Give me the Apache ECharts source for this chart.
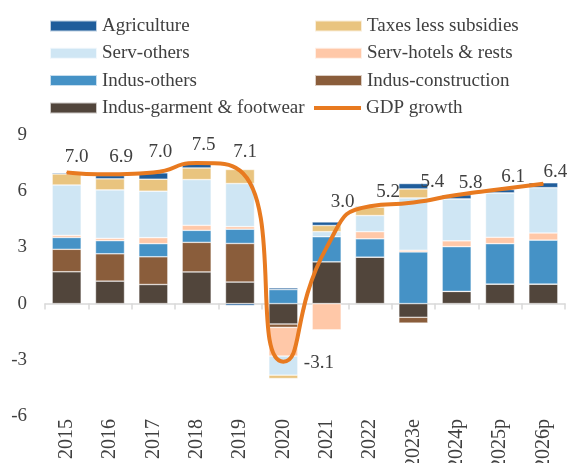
<!DOCTYPE html>
<html>
<head>
<meta charset="utf-8">
<script src="https://cdn.jsdelivr.net/npm/echarts@6/dist/echarts.min.js"></script>
<style>
html,body{margin:0;padding:0;background:#fff;}
#chart{width:571px;height:463px;}
</style>
</head>
<body>
<div id="chart"></div>
<script>
// ---- data ----
const categories = ['2015','2016','2017','2018','2019','2020','2021','2022','2023e','2024p','2025p','2026p'];
const indusGarment      = [1.70, 1.20, 1.02, 1.69, 1.15, -1.09, 2.23, 2.48, -0.73, 0.65, 1.04, 1.04];
const indusConstruction = [1.20, 1.46, 1.48, 1.58, 2.06, -0.18, 0, 0, -0.31, 0, 0, 0];
const indusOthers       = [0.63, 0.70, 0.70, 0.64, 0.76, 0.75, 1.34, 0.98, 2.76, 2.39, 2.16, 2.35];
const servHotels        = [0.11, 0.12, 0.32, 0.27, 0.14, -1.53, -1.40, 0.38, 0.09, 0.31, 0.34, 0.38];
const servOthers        = [2.69, 2.59, 2.48, 2.44, 2.30, -1.02, 0.27, 0.86, 2.79, 2.24, 2.37, 2.42];
const taxes             = [0.59, 0.59, 0.64, 0.62, 0.75, -0.18, 0.33, 0.45, 0.48, 0, 0, 0];
const agriculture       = [0.06, 0.18, 0.34, 0.28, -0.10, 0.09, 0.19, 0.05, 0.29, 0.22, 0.18, 0.26];
const gdpGrowth         = [7.0, 6.9, 7.0, 7.5, 7.1, -3.1, 3.0, 5.2, 5.4, 5.8, 6.1, 6.4];
const yTicks = {min: -6, max: 9, step: 3};

// ---- styling ----
const FONT = 'Liberation Serif';
const TXT = '#404040';
const barSeriesDef = [
  ['Indus-garment & footwear', indusGarment, '#51453b'],
  ['Indus-construction', indusConstruction, '#8a5d3b'],
  ['Indus-others', indusOthers, '#4592c6'],
  ['Serv-hotels & rests', servHotels, '#ffc8a8'],
  ['Serv-others', servOthers, '#cfe6f4'],
  ['Taxes less subsidies', taxes, '#e9c47f'],
  ['Agriculture', agriculture, '#1f5d9b']
];
// label offsets [dx, dy] per point (styling only)
const labelOffsets = [[10,0],[11,-2],[7,-5],[7,-3],[5,-4],[0,1],[16,-30],[18,1],[19,-5],[14,3],[13,3],[12,3]];

const series = barSeriesDef.map(([name, arr, color]) => ({
  name, type: 'bar', stack: 'total', xAxisIndex: 0,
  data: arr, barCategoryGap: '33%',
  itemStyle: {color, borderColor: 'rgba(255,255,255,0.7)', borderWidth: 0.6},
  emphasis: {disabled: true}
}));
series.push({
  name: 'GDP growth', type: 'line', xAxisIndex: 0, smooth: 0.6,
  symbol: 'circle', symbolSize: 1, z: 10,
  lineStyle: {color: '#e87a20', width: 4},
  itemStyle: {color: '#e87a20'},
  data: gdpGrowth.map((v, i) => ({
    value: v,
    label: i === 5
      ? {show: true, position: 'right', distance: 20, offset: labelOffsets[i]}
      : {show: true, position: 'top', distance: 5, offset: labelOffsets[i]}
  })),
  label: {formatter: p => p.value.toFixed(1), fontFamily: FONT, fontSize: 19, color: TXT},
  emphasis: {disabled: true}
});

const legendCommon = {
  orient: 'vertical', padding: 0, itemWidth: 47, itemHeight: 11, itemGap: 7.3,
  textStyle: {fontFamily: FONT, fontSize: 19, color: TXT, lineHeight: 20},
  icon: 'rect', selectedMode: false
};

const option = {
  animation: false,
  backgroundColor: '#fff',
  legend: [
    Object.assign({}, legendCommon, {left: 49, top: 16, data: ['Agriculture','Serv-others','Indus-others','Indus-garment & footwear']}),
    Object.assign({}, legendCommon, {left: 314, top: 16, data: ['Taxes less subsidies','Serv-hotels & rests','Indus-construction']}),
    Object.assign({}, legendCommon, {left: 314, top: 98, itemHeight: 4, data: ['GDP growth']})
  ],
  grid: {left: 45, right: 6, top: 135, bottom: 47, containLabel: false, outerBoundsMode: 'none'},
  xAxis: [
    {type: 'category', data: categories, position: 'bottom',
     axisLine: {show: false, onZero: false}, axisTick: {show: false},
     axisLabel: {rotate: 90, margin: 3, fontFamily: FONT, fontSize: 20, color: TXT, interval: 0}},
    {type: 'category', data: categories, position: 'bottom',
     axisLine: {show: true, onZero: true, lineStyle: {color: '#d9d9d9', width: 1.5}},
     axisTick: {show: true, length: 6, interval: 0, lineStyle: {color: '#d9d9d9', width: 1.5}},
     axisLabel: {show: false}}
  ],
  yAxis: {
    type: 'value', min: yTicks.min, max: yTicks.max, interval: yTicks.step,
    axisLine: {show: false}, axisTick: {show: false}, splitLine: {show: false},
    axisLabel: {margin: 18, fontFamily: FONT, fontSize: 19, color: TXT}
  },
  series
};

const chart = echarts.init(document.getElementById('chart'), null, {renderer: 'canvas'});
chart.setOption(option);
</script>
</body>
</html>
